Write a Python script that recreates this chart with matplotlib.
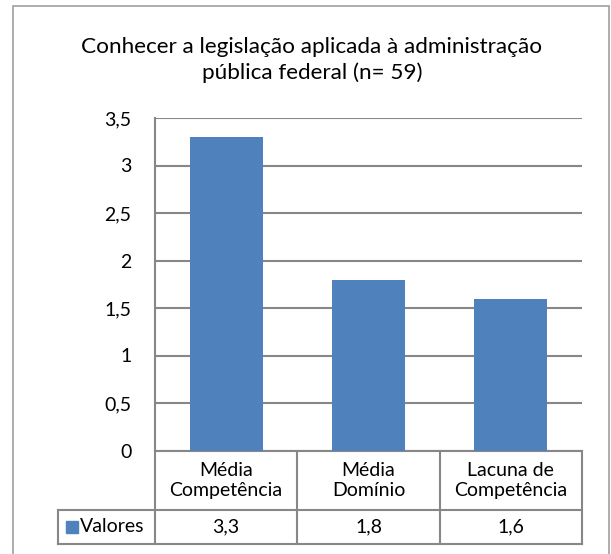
import matplotlib
matplotlib.use("Agg")
import matplotlib.pyplot as plt
from matplotlib.lines import Line2D
from matplotlib.patches import Rectangle

# dados do gráfico
categorias = ["Média\nCompetência", "Média\nDomínio", "Lacuna de\nCompetência"]
valores = [3.3, 1.8, 1.6]
rotulos_valores = ["3,3", "1,8", "1,6"]
serie = "Valores"
titulo = "Conhecer a legislação aplicada à administração\npública federal (n= 59)"
yticks = [0, 0.5, 1, 1.5, 2, 2.5, 3, 3.5]
ytick_labels = ["0", "0,5", "1", "1,5", "2", "2,5", "3", "3,5"]

azul = "#4F81BD"
cinza = "#878787"

plt.rcParams["font.family"] = ["Lato", "DejaVu Sans"]

W, H = 611, 554
fig = plt.figure(figsize=(W / 100, H / 100), dpi=100)

# moldura externa do gráfico
fig.patches.append(Rectangle((13 / W, -0.05), (609 - 13) / W, 1.05 - 6 / H,
                             transform=fig.transFigure, fill=False,
                             edgecolor="#A0A0A0", lw=1.2))

px_l, px_r, px_t, px_b = 155, 582, 118, 450.5
ax = fig.add_axes([px_l / W, 1 - px_b / H, (px_r - px_l) / W, (px_b - px_t) / H])
ph = px_b - px_t
pw = px_r - px_l

x = range(len(valores))
ax.bar(x, valores, width=0.515, color=azul, zorder=3)
ax.set_xlim(-0.5, len(valores) - 0.5)
ax.set_ylim(0, 3.5)
ax.set_yticks(yticks)
ax.set_yticklabels(ytick_labels, fontsize=14)
ax.set_xticks([])
ax.tick_params(axis="y", length=0, pad=17)
ax.yaxis.grid(True, color=cinza, lw=1.5, zorder=0)
for s in ["top", "right", "bottom"]:
    ax.spines[s].set_visible(False)
ax.spines["left"].set_color(cinza)
ax.spines["left"].set_linewidth(1.5)

# tabela de dados abaixo do eixo
y_head = -(510 - px_b) / ph
y_bot = -(544 - px_b) / ph
x_lab = -(px_l - 58) / pw
n = len(valores)
kw = dict(transform=ax.transAxes, color=cinza, lw=1.5, clip_on=False)
ax.add_line(Line2D([0, 1], [0, 0], **kw))
ax.add_line(Line2D([x_lab, 1], [y_head, y_head], **kw))
ax.add_line(Line2D([x_lab, 1], [y_bot, y_bot], **kw))
ax.add_line(Line2D([x_lab, x_lab], [y_head, y_bot], **kw))
for i in range(n + 1):
    ax.add_line(Line2D([i / n, i / n], [0, y_bot], **kw))

for i, (cat, rot) in enumerate(zip(categorias, rotulos_valores)):
    xc = (i + 0.5) / n
    ax.text(xc, y_head / 2, cat, transform=ax.transAxes, ha="center",
            va="center", fontsize=14, linespacing=1.2)
    ax.text(xc, (y_head + y_bot) / 2, rot, transform=ax.transAxes,
            ha="center", va="center", fontsize=14)

sq = 12
ax.add_patch(Rectangle((x_lab + 8 / pw, (y_head + y_bot) / 2 - sq / 2 / ph),
                       sq / pw, sq / ph, transform=ax.transAxes,
                       color=azul, clip_on=False))
ax.text(x_lab + 22 / pw, (y_head + y_bot) / 2, serie, transform=ax.transAxes,
        ha="left", va="center", fontsize=14)

fig.text(312 / W, 1 - 60 / H, titulo, ha="center", va="center",
         fontsize=16.2, linespacing=1.3)

fig.savefig("out.png", dpi=100)
